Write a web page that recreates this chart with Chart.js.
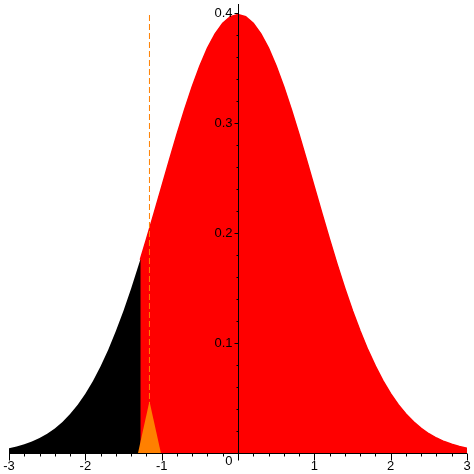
<!DOCTYPE html>
<html>
<head>
<meta charset="utf-8">
<script src="https://cdn.jsdelivr.net/npm/chart.js@4.4.1/dist/chart.umd.min.js"></script>
<style>
  body { margin: 0; background: #fff; }
  canvas { display: block; }
</style>
</head>
<body>
<canvas id="normalChart" width="474" height="474"></canvas>
<script>
// values (standard normal density)
const xValues = [-3, -2.9, -2.8, -2.7, -2.6, -2.5, -2.4, -2.3, -2.2, -2.1, -2, -1.9, -1.8, -1.7, -1.6, -1.5, -1.4, -1.3, -1.28,
  -1.2, -1.1, -1, -0.9, -0.8, -0.7, -0.6, -0.5, -0.4, -0.3, -0.2, -0.1, 0,
  0.1, 0.2, 0.3, 0.4, 0.5, 0.6, 0.7, 0.8, 0.9, 1, 1.1, 1.2, 1.3, 1.4, 1.5, 1.6, 1.7, 1.8, 1.9, 2,
  2.1, 2.2, 2.3, 2.4, 2.5, 2.6, 2.7, 2.8, 2.9, 3];
const densityValues = [0.0044, 0.0060, 0.0079, 0.0104, 0.0136, 0.0175, 0.0224, 0.0283, 0.0355, 0.0440, 0.0540, 0.0656, 0.0790, 0.0940, 0.1109, 0.1295, 0.1497, 0.1714, 0.1758,
  0.1942, 0.2179, 0.2420, 0.2661, 0.2897, 0.3123, 0.3332, 0.3521, 0.3683, 0.3814, 0.3910, 0.3970, 0.3989,
  0.3970, 0.3910, 0.3814, 0.3683, 0.3521, 0.3332, 0.3123, 0.2897, 0.2661, 0.2420, 0.2179, 0.1942, 0.1714, 0.1497, 0.1295, 0.1109, 0.0940, 0.0790, 0.0656, 0.0540,
  0.0440, 0.0355, 0.0283, 0.0224, 0.0175, 0.0136, 0.0104, 0.0079, 0.0060, 0.0044];
const cutoff = -1.28;

// small orange triangle and the dashed marker line
const triangleX = [-1.31, -1.16, -1.01];
const triangleY = [0, 0.047, 0];
const markerX = [-1.16, -1.16];
const markerY = [0, 0.4];

const xTicks = [-3, -2, -1, 1, 2, 3];
const xTickLabels = ['-3', '-2', '-1', '1', '2', '3'];
const yTicks = [0.1, 0.2, 0.3, 0.4];
const yTickLabels = ['0.1', '0.2', '0.3', '0.4'];

const toPoints = (xs, ys) => xs.map((x, i) => ({ x: x, y: ys[i] }));
const allPoints = toPoints(xValues, densityValues);
// black fills the whole curve underneath, red covers it right of the cutoff
const redPoints = allPoints.filter((p) => p.x >= cutoff);

// axes through the origin, Maple style
const axesPlugin = {
  id: 'originAxes',
  afterDatasetsDraw(chart) {
    const ctx = chart.ctx;
    const xs = chart.scales.x;
    const ys = chart.scales.y;
    const x0 = Math.round(xs.getPixelForValue(0)) + 0.5;
    const y0 = Math.round(ys.getPixelForValue(0)) + 0.5;
    ctx.save();
    ctx.strokeStyle = '#000';
    ctx.fillStyle = '#000';
    ctx.lineWidth = 1;
    ctx.beginPath();
    // x axis
    ctx.moveTo(xs.left, y0);
    ctx.lineTo(xs.right, y0);
    // y axis
    ctx.moveTo(x0, ys.top);
    ctx.lineTo(x0, y0);
    // x ticks
    for (let i = -15; i <= 15; i++) {
      const v = i / 5;
      const px = Math.round(xs.getPixelForValue(v)) + 0.5;
      const len = i % 5 === 0 ? 7 : 3;
      ctx.moveTo(px, y0);
      ctx.lineTo(px, y0 + len);
    }
    // y ticks
    for (let i = 1; i <= 20; i++) {
      const v = i / 50;
      const py = Math.round(ys.getPixelForValue(v)) + 0.5;
      const len = i % 5 === 0 ? 4 : 2;
      ctx.moveTo(x0, py);
      ctx.lineTo(x0 - len, py);
    }
    ctx.stroke();

    ctx.font = '13px "Liberation Sans", Arial, sans-serif';
    ctx.textAlign = 'center';
    ctx.textBaseline = 'top';
    xTicks.forEach((v, i) => {
      ctx.fillText(xTickLabels[i], xs.getPixelForValue(v), y0 + 6);
    });
    ctx.textAlign = 'right';
    ctx.textBaseline = 'middle';
    yTicks.forEach((v, i) => {
      ctx.fillText(yTickLabels[i], x0 - 6, ys.getPixelForValue(v));
    });
    ctx.textBaseline = 'top';
    ctx.fillText('0', x0 - 6, y0 + 1);
    ctx.restore();
  }
};

new Chart(document.getElementById('normalChart'), {
  type: 'line',
  data: {
    datasets: [
      {
        data: toPoints(markerX, markerY),
        borderColor: '#ff8000',
        borderWidth: 1,
        borderDash: [6, 3],
        pointRadius: 0,
        fill: false,
        order: 0
      },
      {
        data: toPoints(triangleX, triangleY),
        borderWidth: 0,
        backgroundColor: '#ff8000',
        pointRadius: 0,
        fill: 'origin',
        order: 1
      },
      {
        data: redPoints,
        borderWidth: 1.5,
        borderColor: '#ff0000',
        backgroundColor: '#ff0000',
        pointRadius: 0,
        fill: 'origin',
        order: 2
      },
      {
        data: allPoints,
        borderWidth: 0,
        backgroundColor: '#000000',
        pointRadius: 0,
        fill: 'origin',
        order: 3
      }
    ]
  },
  options: {
    responsive: false,
    animation: false,
    layout: { padding: { top: 4, bottom: 21, left: 9, right: 7 } },
    plugins: { legend: { display: false }, tooltip: { enabled: false } },
    scales: {
      x: { type: 'linear', min: -3, max: 3, display: false },
      y: { type: 'linear', min: 0, max: 0.4085, display: false }
    }
  },
  plugins: [axesPlugin]
});
</script>
</body>
</html>
